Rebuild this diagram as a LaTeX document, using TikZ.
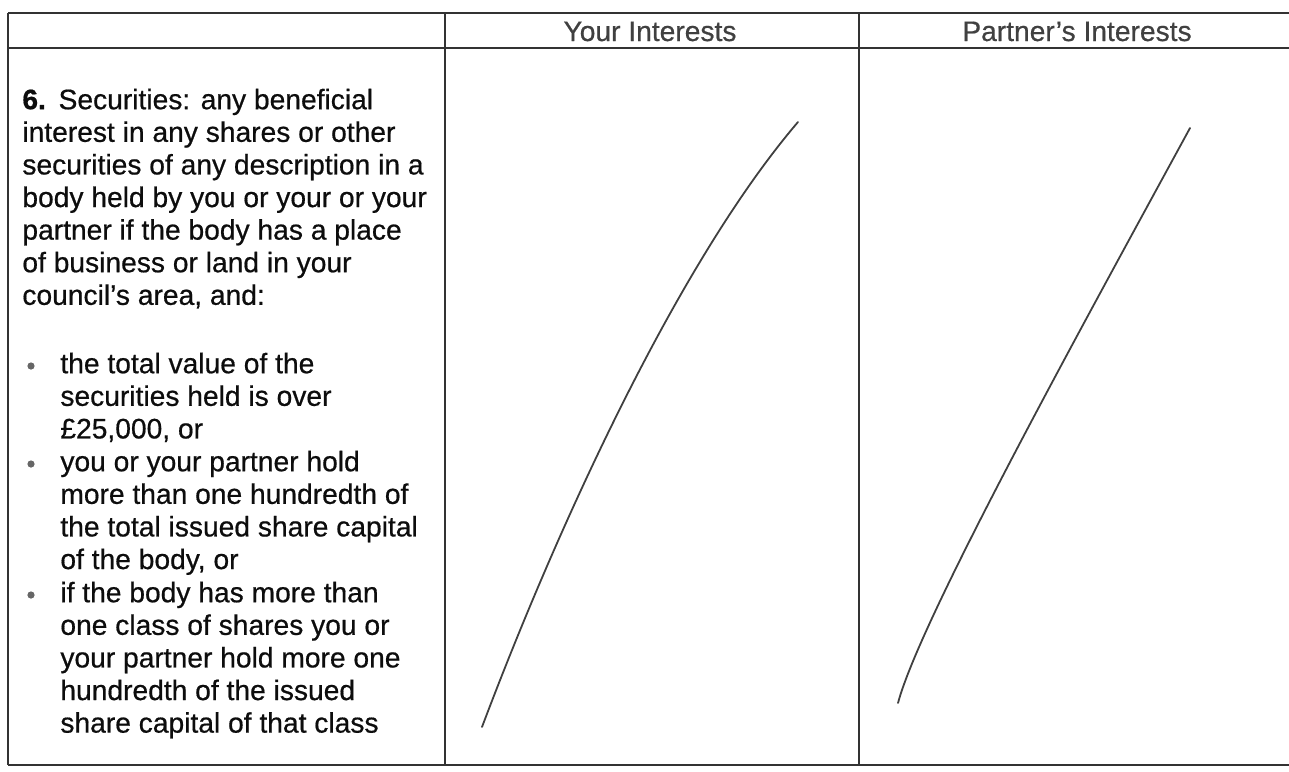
\documentclass[tikz,border=0pt]{standalone}
\usepackage{fontspec}
\setmainfont{Liberation Sans}[FakeBold=0.6]
\newfontfamily\scanfont{Liberation Sans}[FakeBold=0.6]

\begin{document}
\begin{tikzpicture}[x=0.5pt, y=-0.5pt,
    rule/.style = {draw=black!80, line width=0.75pt},
    cell/.style = {anchor=north west, inner sep=0pt, align=left, text=black!95,
                   font=\scanfont\fontsize{14.1}{16.3}\selectfont},
    head/.style = {anchor=base, inner sep=0pt, text=black!75,
                   font=\fontsize{14.1}{16.3}\selectfont},
    dot/.style = {circle, fill=black!60, inner sep=0pt, minimum size=3.6pt},
    tick/.style = {draw=black!75, line width=0.9pt, line cap=round}]
    \useasboundingbox (0,0) rectangle (1289,771);
    % table frame
    \coordinate (tl) at (8,13);
    \coordinate (tr) at (1289,13);
    \coordinate (ml) at (8,48);
    \coordinate (mr) at (1289,48);
    \coordinate (bl) at (8,765);
    \coordinate (br) at (1289,765);
    \coordinate (c1t) at (445,13);
    \coordinate (c1b) at (445,765);
    \coordinate (c2t) at (859,13);
    \coordinate (c2b) at (859,765);
    \draw[rule] (tl) -- (tr);
    \draw[rule] (ml) -- (mr);
    \draw[rule] (bl) -- (br);
    \draw[rule] (tl) -- (bl);
    \draw[rule] (c1t) -- (c1b);
    \draw[rule] (c2t) -- (c2b);
    % headings
    \node[head] (you) at (650,41) {Your Interests};
    \node[head] (partner) at (1077,41) {Partner’s Interests};
    % first column
    \node[cell] (item) at (22,86) {\strut\textbf{6.}\hspace{0.45em}Securities: any beneficial\\
        interest in any shares or other\\
        securities of any description in a\\
        body held by you or your or your\\
        partner if the body has a place\\
        of business or land in your\\
        council’s area, and:};
    \node[dot] (d1) at (31,366) {};
    \node[cell] (opt1) at (60,350) {\strut the total value of the\\
        securities held is over\\
        £25,000, or};
    \node[dot] (d2) at (31,464) {};
    \node[cell] (opt2) at (60,448) {\strut you or your partner hold\\
        more than one hundredth of\\
        the total issued share capital\\
        of the body, or};
    \node[dot] (d3) at (31,595) {};
    \node[cell] (opt3) at (60,579) {\strut if the body has more than\\
        one class of shares you or\\
        your partner hold more one\\
        hundredth of the issued\\
        share capital of that class};
    % crossed-out cells
    \draw[tick] (482,727) .. controls (560,520) and (680,260) .. (798,122);
    \draw[tick] (898,703) .. controls (920,620) and (1080,330) .. (1190,128);
\end{tikzpicture}
\end{document}
